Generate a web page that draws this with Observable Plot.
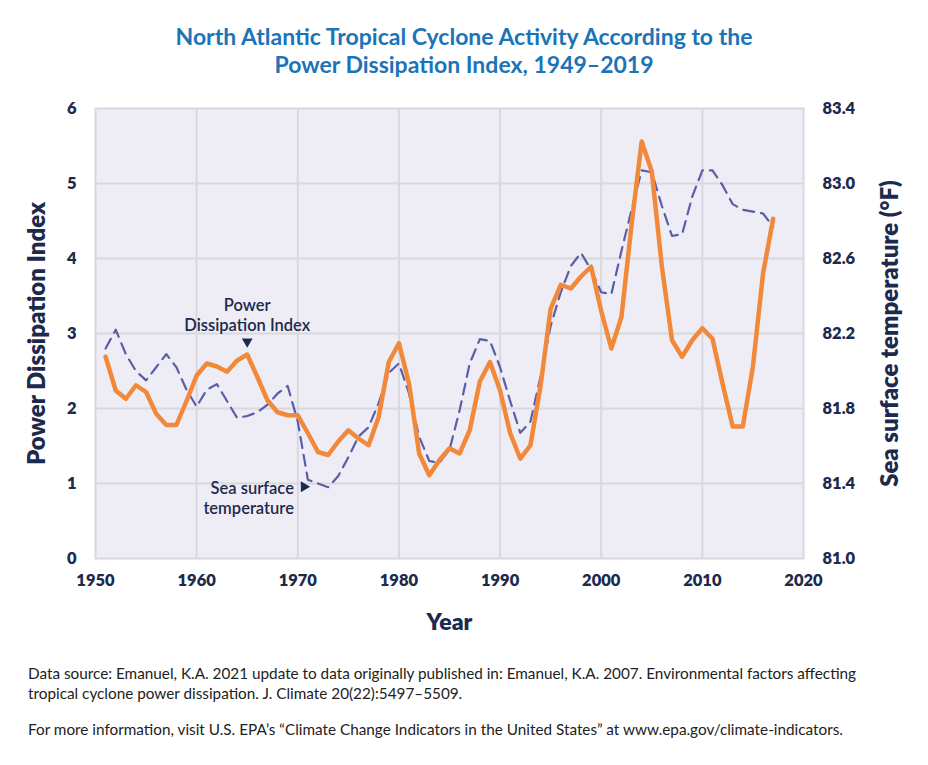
<!DOCTYPE html>
<html><head><meta charset="utf-8">
<script src="https://cdn.jsdelivr.net/npm/d3@7"></script>
<script src="https://cdn.jsdelivr.net/npm/@observablehq/plot@0.6"></script>
<style>
body{margin:0;background:#fff;width:928px;height:765px;position:relative;font-family:Lato,sans-serif;overflow:hidden}
#title{position:absolute;top:22px;left:0;width:928px;text-align:center;color:#1c74b8;font-weight:700;font-size:23px;line-height:28px}
#chart{position:absolute;top:90px;left:0}
#caption{position:absolute;top:664px;left:28px;color:#222;font-size:15.3px;line-height:19.5px}
</style></head>
<body>
<div id="title">North Atlantic Tropical Cyclone Activity According to the<br>Power Dissipation Index, 1949–2019</div>
<div id="chart"></div>
<div id="caption">Data source: Emanuel, K.A. 2021 update to data originally published in: Emanuel, K.A. 2007. Environmental factors affecting<br>tropical cyclone power dissipation. J. Climate 20(22):5497–5509.<br><div style="height:17px"></div>For more information, visit U.S. EPA’s “Climate Change Indicators in the United States” at www.epa.gov/climate-indicators.</div>
<script>
const years = [1951,1952,1953,1954,1955,1956,1957,1958,1959,1960,
  1961,1962,1963,1964,1965,1966,1967,1968,1969,1970,
  1971,1972,1973,1974,1975,1976,1977,1978,1979,1980,
  1981,1982,1983,1984,1985,1986,1987,1988,1989,1990,
  1991,1992,1993,1994,1995,1996,1997,1998,1999,2000,
  2001,2002,2003,2004,2005,2006,2007,2008,2009,2010,
  2011,2012,2013,2014,2015,2016,2017];
const pdi = [2.69,2.24,2.13,2.31,2.22,1.93,1.78,1.78,2.10,2.44,
  2.60,2.56,2.49,2.64,2.72,2.42,2.11,1.95,1.91,1.91,
  1.67,1.42,1.38,1.56,1.71,1.60,1.51,1.89,2.62,2.87,
  2.33,1.40,1.11,1.31,1.47,1.40,1.71,2.36,2.62,2.24,
  1.67,1.33,1.51,2.30,3.33,3.65,3.60,3.76,3.89,3.30,
  2.80,3.22,4.45,5.56,5.16,3.89,2.91,2.69,2.91,3.07,
  2.93,2.33,1.76,1.76,2.56,3.80,4.53];
const sst = [82.12,82.22,82.09,82.00,81.95,82.02,82.09,82.02,81.90,81.81,
  81.90,81.93,81.84,81.75,81.76,81.78,81.82,81.88,81.92,81.73,
  81.42,81.40,81.38,81.44,81.54,81.65,81.70,81.83,81.99,82.04,
  81.88,81.65,81.52,81.51,81.58,81.79,82.04,82.17,82.16,82.02,
  81.84,81.67,81.73,81.97,82.24,82.42,82.56,82.63,82.54,82.42,
  82.41,82.64,82.86,83.07,83.06,82.88,82.72,82.73,82.93,83.07,
  83.07,82.99,82.89,82.86,82.85,82.84,82.77];
const xTicks = [1950,1960,1970,1980,1990,2000,2010,2020];
const pdiTicks = [0,1,2,3,4,5,6];
const sstTicks = [81.0,81.4,81.8,82.2,82.6,83.0,83.4];
const annPdi = [{year:1965, label:"Power\nDissipation Index"}];
const annSst = [{year:1971, label:"Sea surface\ntemperature"}];

const navy = "#1c2a4e";
const grid = "#d8d8de";
const sstMin = 81.0, sstStep = 0.4;
const sstToY = t => (t - sstMin) / sstStep;
const data = years.map((year, i) => ({year, pdi: pdi[i], sst: sst[i]}));
const pdiAt = y => data.find(d => d.year === y).pdi;
const sstAt = y => sstToY(data.find(d => d.year === y).sst);

const chart = Plot.plot({
  width: 928, height: 560,
  marginTop: 18, marginBottom: 92, marginLeft: 95, marginRight: 125,
  style: {fontFamily: "Lato, sans-serif", fontSize: "16.5px", fontWeight: 800, color: navy, background: "transparent"},
  x: {domain: [1950, 2020]},
  y: {domain: [0, 6]},
  marks: [
    Plot.frame({fill: "#eeedf5", stroke: null}),
    Plot.gridX(xTicks.slice(1, -1), {stroke: grid, strokeOpacity: 1, strokeWidth: 2}),
    Plot.gridY(pdiTicks.slice(1, -1), {stroke: grid, strokeOpacity: 1, strokeWidth: 2}),
    Plot.frame({stroke: grid, strokeWidth: 2}),
    Plot.axisX(xTicks, {tickSize: 0, tickPadding: 16, tickFormat: d => String(d), label: null, fill: navy}),
    Plot.axisY(pdiTicks, {anchor: "left", tickSize: 0, tickPadding: 19, label: null, fill: navy,
      tickFormat: d => String(d)}),
    Plot.axisY(pdiTicks, {anchor: "right", tickSize: 0, tickPadding: 19, label: null, fill: navy,
      tickFormat: (d, i) => sstTicks[i].toFixed(1)}),
    Plot.line(data, {x: "year", y: d => sstToY(d.sst), stroke: "#5a5ea9", strokeWidth: 2.2, strokeDasharray: "11,7"}),
    Plot.line(data, {x: "year", y: "pdi", stroke: "#f1883a", strokeWidth: 4.5}),
    Plot.text(annPdi, {x: "year", y: d => pdiAt(d.year), text: "label", dy: -40, lineHeight: 1.22,
      fontSize: 16.5, fontWeight: 600, fill: navy}),
    Plot.dot(annPdi, {x: "year", y: d => pdiAt(d.year), dy: -13, symbol: "triangle", rotate: 180, r: 4, fill: navy, stroke: null}),
    Plot.text(annSst, {x: "year", y: d => sstAt(d.year), text: "label", dx: -14, dy: 18, textAnchor: "end", lineHeight: 1.22,
      fontSize: 16.5, fontWeight: 600, fill: navy}),
    Plot.dot(annSst, {x: "year", y: d => sstAt(d.year), dx: -4, dy: 7, symbol: "triangle", rotate: 90, r: 4, fill: navy, stroke: null}),
    Plot.text(["Power Dissipation Index"], {frameAnchor: "left", dx: -58, textAnchor: "middle", lineAnchor: "middle", rotate: -90, fontSize: 24, fontWeight: 800, fill: navy}),
    Plot.text(["Sea surface temperature (°F)"], {frameAnchor: "right", dx: 87, textAnchor: "middle", lineAnchor: "middle", rotate: -90, fontSize: 24, fontWeight: 800, fill: navy}),
    Plot.text(["Year"], {frameAnchor: "bottom", dy: 64, lineAnchor: "middle", fontSize: 23, fontWeight: 800, fill: navy})
  ]
});
document.getElementById("chart").appendChild(chart);
</script>
</body></html>
